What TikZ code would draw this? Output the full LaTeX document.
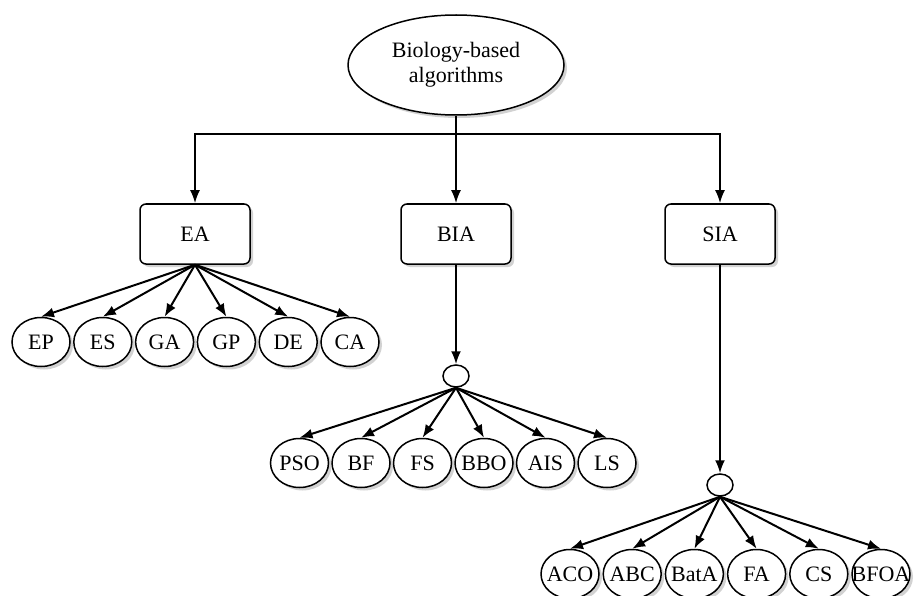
\documentclass[tikz,border=0pt]{standalone}
\usepackage{fontspec}
\setmainfont{Liberation Serif}
\usetikzlibrary{shapes,arrows.meta,positioning,shadows,calc}

\begin{document}
\begin{tikzpicture}[x=1pt,y=-1pt,>={Latex[length=13pt,width=10pt]},
  font=\fontsize{22}{25}\selectfont,
  shade/.style={drop shadow={shadow xshift=3pt,shadow yshift=-3pt,fill=gray!70}},
  root/.style={ellipse,draw,line width=1.5pt,fill=white,shade,
    minimum width=216,minimum height=100,inner sep=0pt,align=center},
  group/.style={rectangle,rounded corners=6pt,draw,line width=1.5pt,fill=white,shade,
    minimum width=110,minimum height=60},
  hub/.style={ellipse,draw,line width=1.5pt,fill=white,
    minimum width=26,minimum height=22,inner sep=0pt},
  leaf/.style={ellipse,draw,line width=1.5pt,fill=white,shade,
    minimum width=58,minimum height=49,inner sep=0pt},
  link/.style={->,line width=2pt}]
\useasboundingbox (0,0) rectangle (923,596);

\node[root] (bio) at (456,65) {Biology-based\\algorithms};

\node[group] (ea)  at (195,234) {EA};
\node[group] (bia) at (456,234) {BIA};
\node[group] (sia) at (720,234) {SIA};

\node[hub] (biahub) at (456,376) {};
\node[hub] (siahub) at (720,485) {};

% leaves of each branch
\foreach \name [count=\i] in {EP,ES,GA,GP,DE,CA}
  \node[leaf] (\name) at ({41+61.8*(\i-1)},342) {\makebox[0pt]{\name}};
\foreach \name [count=\i] in {PSO,BF,FS,BBO,AIS,LS}
  \node[leaf] (\name) at ({299.5+61.5*(\i-1)},463) {\makebox[0pt]{\name}};
\foreach \name [count=\i] in {ACO,ABC,BatA,FA,CS,BFOA}
  \node[leaf] (\name) at ({570+62.2*(\i-1)},574) {\makebox[0pt]{\name}};

% trunk
\draw[line width=2pt] (bio.south) -- ++(0,18) coordinate (split);
\draw[link] (split) -| (ea.north);
\draw[link] (split) -- (bia.north);
\draw[link] (split) -| (sia.north);

\draw[link] (bia.south) -- (biahub.north);
\draw[link] (sia.south) -- (siahub.north);

\foreach \name in {EP,ES,GA,GP,DE,CA}
  \draw[link] (ea.south) -- (\name.north);
\foreach \name in {PSO,BF,FS,BBO,AIS,LS}
  \draw[link] (biahub.south) -- (\name.north);
\foreach \name in {ACO,ABC,BatA,FA,CS,BFOA}
  \draw[link] (siahub.south) -- (\name.north);
\end{tikzpicture}
\end{document}
